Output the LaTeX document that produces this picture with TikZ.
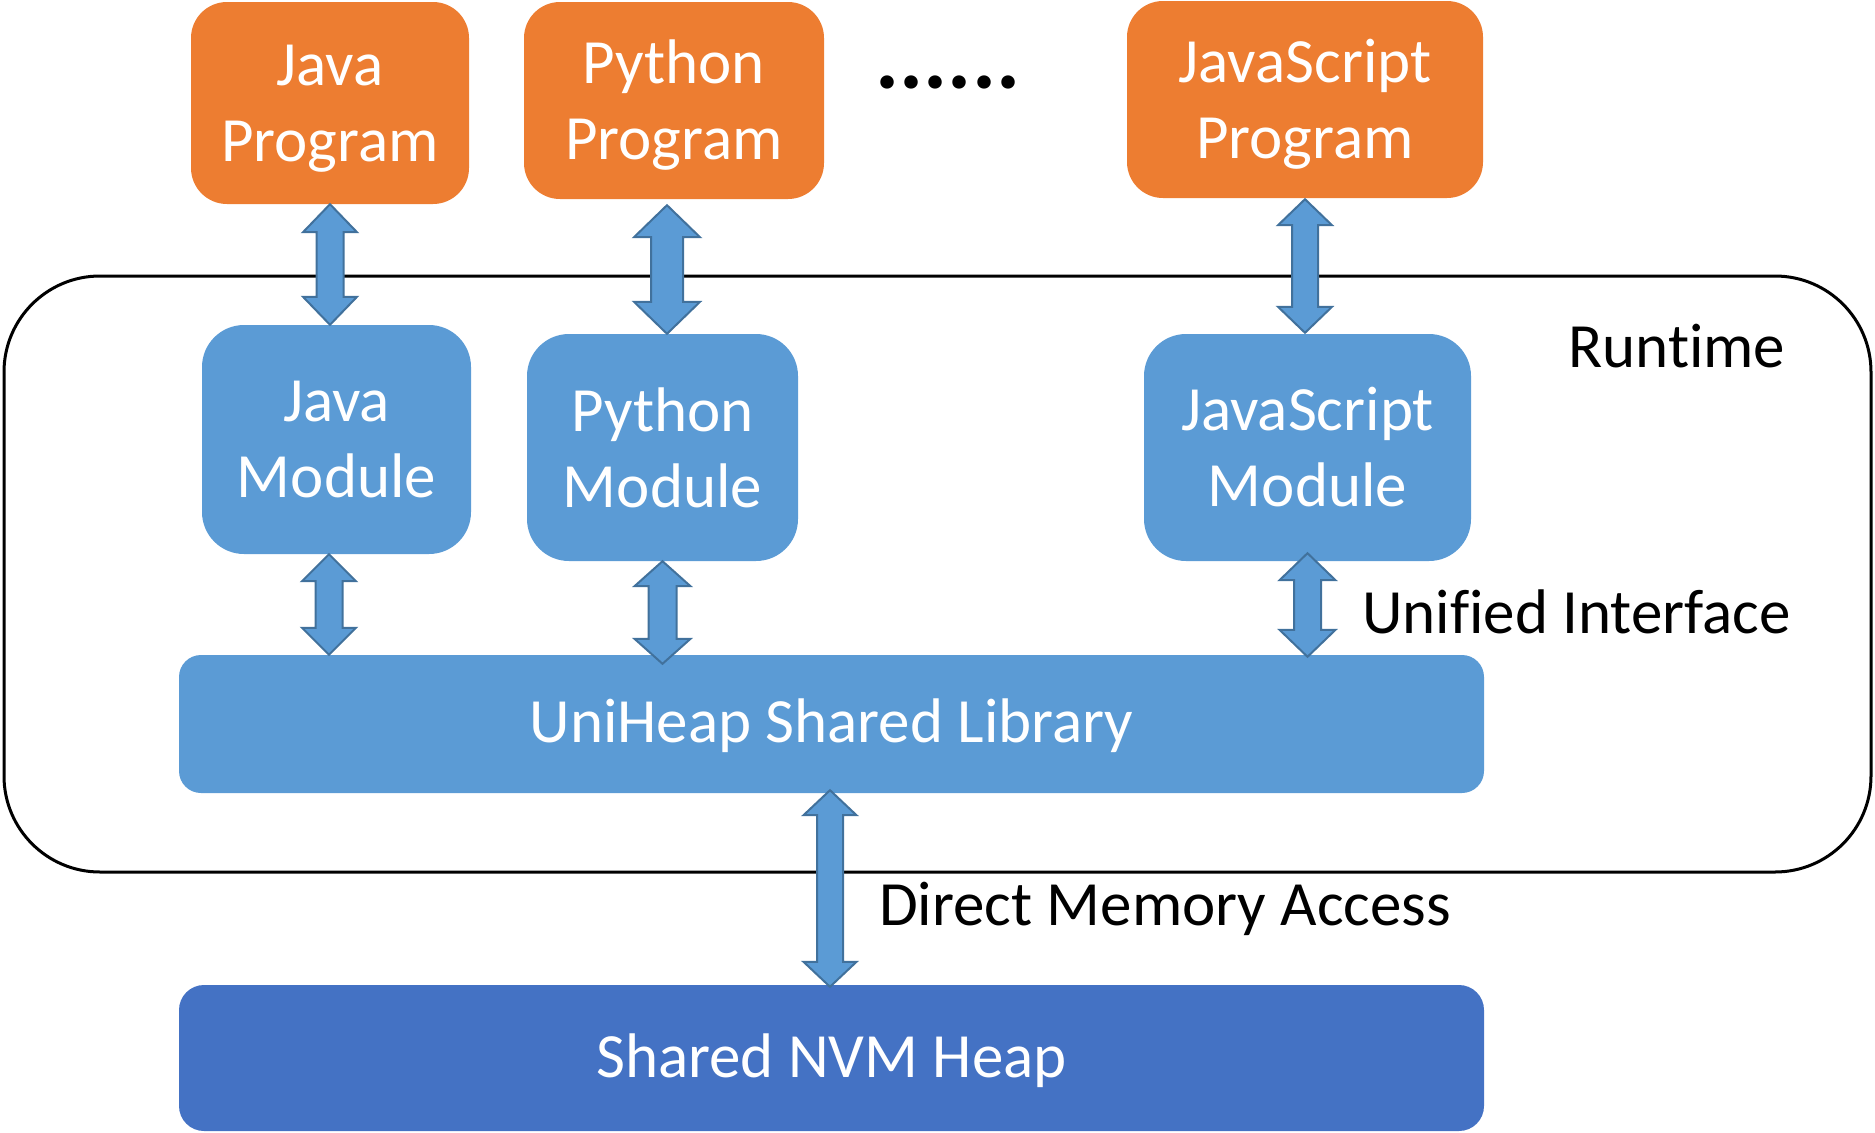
\documentclass[tikz,border=0pt]{standalone}
\usepackage{fontspec}
\setmainfont{Carlito}[Ligatures=CommonOff]
\usetikzlibrary{calc}
\definecolor{orng}{HTML}{ED7D31}
\definecolor{lblue}{HTML}{5B9BD5}
\definecolor{dblue}{HTML}{4472C4}
\definecolor{aborder}{HTML}{41719C}
\newcommand\biarrow[6]{%
 \path[biarrowsty] let \p1=(#1), \p2=(#2), \p3=(#3) in
 (\x1,\y2) -- (\x1+#4pt,\y2-#6pt) -- (\x1+#5pt,\y2-#6pt) -- (\x1+#5pt,\y3+#6pt)
 -- (\x1+#4pt,\y3+#6pt) -- (\x1,\y3) -- (\x1-#4pt,\y3+#6pt) -- (\x1-#5pt,\y3+#6pt)
 -- (\x1-#5pt,\y2-#6pt) -- (\x1-#4pt,\y2-#6pt) -- cycle;}
\tikzset{
  bigtext/.style={font=\fontsize{63}{76}\selectfont},
  prog/.style={fill=orng, rounded corners=36pt, inner sep=0pt},
  modbox/.style={fill=lblue, text=white, rounded corners=42pt, inner sep=0pt, align=center, bigtext},
  libbox/.style={fill=lblue, rounded corners=22pt, inner sep=0pt},
  heapbox/.style={fill=dblue, rounded corners=25pt, inner sep=0pt},
  intext/.style={text=white, inner sep=0pt, align=center, bigtext},
  lbl/.style={text=black, inner sep=0pt, bigtext},
  biarrowsty/.style={fill=lblue, draw=aborder, line width=2pt, line join=miter},
}
\begin{document}
\begin{tikzpicture}[x=1pt, y=-1pt]
\useasboundingbox (0,0) rectangle (1875,1133);
% runtime container
\node[draw=black, line width=3pt, rounded corners=96pt, minimum width=1867pt, minimum height=596pt, inner sep=0pt] (rt) at (937.5,574) {};
\node[lbl, anchor=base west] (rtl) at (1568,367) {Runtime};
% programs
\node[prog, minimum width=278pt, minimum height=202pt] (jp) at (330,103) {};
\node[intext] (jpt) at ($(jp.center)+(0,6)$) {Java\\Program};
\node[prog, minimum width=300pt, minimum height=197pt] (pp) at (674,100.5) {};
\node[intext] (ppt) at ($(pp.center)+(0,5)$) {Python\\Program};
\node[prog, minimum width=356pt, minimum height=197pt] (jsp) at (1305,99.5) {};
\node[intext] (jspt) at ($(jsp.center)+(0,5)$) {JavaScript\\Program};
\node[lbl, anchor=base, font=\fontsize{90}{100}\selectfont\bfseries] (dots) at (948,88) {......};
% modules
\node[modbox, minimum width=269pt, minimum height=229pt] (jm) at (336.5,439.5) {Java\\Module};
\node[modbox, minimum width=271pt, minimum height=227pt] (pm) at (662.5,447.5) {Python\\Module};
\node[modbox, minimum width=327pt, minimum height=227pt] (jsm) at (1307.5,447.5) {JavaScript\\Module};
% library and heap
\node[libbox, minimum width=1305pt, minimum height=138pt] (lib) at (831.5,724) {};
\node[intext] (libt) at ($(lib.center)+(0,2)$) {UniHeap Shared Library};
\node[heapbox, minimum width=1305pt, minimum height=146pt] (nvm) at (831.5,1058) {};
\node[intext] (nvmt) at ($(nvm.center)+(0,3)$) {Shared NVM Heap};
% labels
\node[lbl, anchor=base west] (ui) at (1362,633) {Unified Interface};
\node[lbl, anchor=base west] (dma) at (879,925) {Direct Memory Access};
% arrows
\biarrow{jp.south}{jp.south}{jm.north}{27}{13.5}{28}
\biarrow{$(pp.south)+(-7,0)$}{$(pp.south)+(0,6)$}{pm.north}{33}{16}{32}
\biarrow{jsp.south}{$(jsp.south)+(0,1)$}{$(jsm.north)+(0,-1)$}{27}{13}{26}
\biarrow{$(jm.south)+(-7.5,0)$}{jm.south}{lib.north}{27}{13.5}{27}
\biarrow{pm.south}{pm.south}{$(lib.north)+(0,9)$}{28}{14}{25}
\biarrow{jsm.south}{$(jsm.south)+(0,-8)$}{$(lib.north)+(0,2)$}{28}{13.5}{27}
\biarrow{$(lib.south)+(-1.5,0)$}{$(lib.south)+(0,-3)$}{$(nvm.north)+(0,2)$}{26.5}{13}{25}
\end{tikzpicture}
\end{document}
